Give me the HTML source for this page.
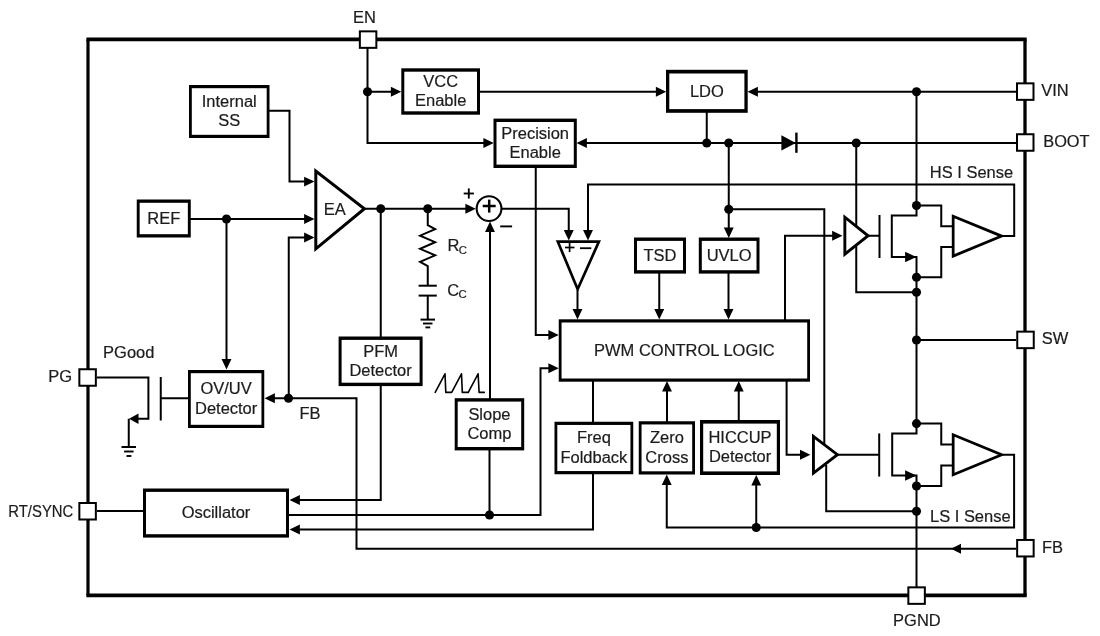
<!DOCTYPE html>
<html lang="en"><head><meta charset="utf-8"><title>Functional Block Diagram</title>
<style>
html,body{margin:0;padding:0;background:#fff;}
body{width:1100px;height:636px;overflow:hidden;}
svg{display:block;}
svg{will-change:transform;}
svg text{font-family:"Liberation Sans",Arial,Helvetica,sans-serif;fill:#1c1c1c;stroke:#1c1c1c;stroke-width:0.2px;}
</style></head><body>
<svg width="1100" height="636" viewBox="0 0 1100 636">
<rect width="1100" height="636" fill="#fff"/>
<path d="M86.4 39.4 L1026.7 39.4" fill="none" stroke="#000" stroke-width="3.8" />
<path d="M86.4 595.4 L1026.7 595.4" fill="none" stroke="#000" stroke-width="3.6" />
<path d="M88 39.4 L88 595.5" fill="none" stroke="#000" stroke-width="3.2" />
<path d="M1025 39.4 L1025 595.5" fill="none" stroke="#000" stroke-width="3.3" />
<path d="M367.5 48 L367.5 143 L485 143" fill="none" stroke="#000" stroke-width="2" />
<polygon points="493.75,143 483.35,138.05 483.35,147.95" fill="#000"/>
<path d="M367.5 91.75 L392 91.75" fill="none" stroke="#000" stroke-width="2" />
<polygon points="401.25,91.75 390.85,86.8 390.85,96.7" fill="#000"/>
<path d="M480 91.75 L657 91.75" fill="none" stroke="#000" stroke-width="2" />
<polygon points="666.25,91.75 655.85,86.8 655.85,96.7" fill="#000"/>
<path d="M1016 91.75 L757 91.75" fill="none" stroke="#000" stroke-width="2" />
<polygon points="747.5,91.75 757.9,86.8 757.9,96.7" fill="#000"/>
<path d="M916.5 91.75 L916.5 215.6 L891.8 215.6 L891.8 257 L916.5 257 L916.5 433.6 L892.2 433.6 L892.2 475.5 L916.5 475.5 L916.5 587" fill="none" stroke="#000" stroke-width="2" />
<path d="M1016 143 L586 143" fill="none" stroke="#000" stroke-width="2" />
<polygon points="576.5,143 586.9,138.05 586.9,147.95" fill="#000"/>
<path d="M706.75 112 L706.75 143" fill="none" stroke="#000" stroke-width="2" />
<path d="M728.75 143 L728.75 229" fill="none" stroke="#000" stroke-width="2" />
<polygon points="728.75,238 723.8,227.6 733.7,227.6" fill="#000"/>
<path d="M728.75 209.25 L824.3 209.25 L824.3 445" fill="none" stroke="#000" stroke-width="2" />
<path d="M826.2 465 L826.2 511.3 L916.5 511.3" fill="none" stroke="#000" stroke-width="2" />
<polygon points="781.4,135.3 781.4,150.5 795.8,142.9" fill="#000"/>
<path d="M796.4 132.6 L796.4 152.8" fill="none" stroke="#000" stroke-width="2.4" />
<path d="M856.25 143 L856.25 292.2 L916.5 292.2" fill="none" stroke="#000" stroke-width="2" />
<path d="M1003 236 L1014.2 236 L1014.2 184.6 L588 184.6 L588 231" fill="none" stroke="#000" stroke-width="2" />
<polygon points="588,240.5 583.05,230.1 592.95,230.1" fill="#000"/>
<path d="M502 208.75 L568.75 208.75 L568.75 231" fill="none" stroke="#000" stroke-width="2" />
<polygon points="568.75,240.5 563.8,230.1 573.7,230.1" fill="#000"/>
<path d="M535.75 166 L535.75 335 L549 335" fill="none" stroke="#000" stroke-width="2" />
<polygon points="558.75,335 548.35,330.05 548.35,339.95" fill="#000"/>
<path d="M288 515 L540.5 515 L540.5 368.2 L549 368.2" fill="none" stroke="#000" stroke-width="2" />
<polygon points="558.75,368.2 548.35,363.25 548.35,373.15" fill="#000"/>
<path d="M489.5 515 L489.5 449" fill="none" stroke="#000" stroke-width="2" />
<path d="M490 399 L490 231" fill="none" stroke="#000" stroke-width="2" />
<polygon points="490,221.6 485.05,232 494.95,232" fill="#000"/>
<path d="M577.5 290 L577.5 310" fill="none" stroke="#000" stroke-width="2" />
<polygon points="577.5,319.5 572.55,309.1 582.45,309.1" fill="#000"/>
<path d="M659.25 273 L659.25 310" fill="none" stroke="#000" stroke-width="2" />
<polygon points="659.25,319.5 654.3,309.1 664.2,309.1" fill="#000"/>
<path d="M728.5 272 L728.5 310" fill="none" stroke="#000" stroke-width="2" />
<polygon points="728.5,319.5 723.55,309.1 733.45,309.1" fill="#000"/>
<path d="M785 320 L785 235.75 L833 235.75" fill="none" stroke="#000" stroke-width="2" />
<polygon points="842.5,235.75 832.1,230.8 832.1,240.7" fill="#000"/>
<path d="M786.6 380 L786.6 454.7 L801 454.7" fill="none" stroke="#000" stroke-width="2" />
<polygon points="810.4,454.7 800,449.75 800,459.65" fill="#000"/>
<path d="M868 235.75 L879.5 235.75" fill="none" stroke="#000" stroke-width="2" />
<path d="M879.5 215 L879.5 258" fill="none" stroke="#000" stroke-width="2" />
<path d="M837 454.7 L879.2 454.7" fill="none" stroke="#000" stroke-width="2" />
<path d="M879.2 433.4 L879.2 476.6" fill="none" stroke="#000" stroke-width="2" />
<polygon points="916.4,257 905.1,251.75 905.1,262.25" fill="#000"/>
<polygon points="916.4,475.5 905.1,470.25 905.1,480.75" fill="#000"/>
<path d="M916.5 205.5 L941.25 205.5 L941.25 226.25 L953 226.25" fill="none" stroke="#000" stroke-width="2" />
<path d="M916.5 277.2 L941.25 277.2 L941.25 247 L953 247" fill="none" stroke="#000" stroke-width="2" />
<path d="M916.5 423.6 L941.25 423.6 L941.25 444.5 L953 444.5" fill="none" stroke="#000" stroke-width="2" />
<path d="M916.5 486 L941.25 486 L941.25 465.5 L953 465.5" fill="none" stroke="#000" stroke-width="2" />
<path d="M916.5 340 L1016 340" fill="none" stroke="#000" stroke-width="2" />
<path d="M1003 454.8 L1014.1 454.8 L1014.1 527.4 L666.75 527.5 L666.75 484" fill="none" stroke="#000" stroke-width="2" />
<polygon points="666.75,474.5 661.8,484.9 671.7,484.9" fill="#000"/>
<path d="M756.25 527.5 L756.25 484" fill="none" stroke="#000" stroke-width="2" />
<polygon points="756.25,475 751.3,485.4 761.2,485.4" fill="#000"/>
<path d="M1016 548.75 L356.5 548.75 L356.5 398.25 L274 398.25" fill="none" stroke="#000" stroke-width="2" />
<polygon points="264.5,398.25 274.9,393.3 274.9,403.2" fill="#000"/>
<polygon points="951,548.75 961,543.75 961,553.75" fill="#000"/>
<path d="M288.75 398.25 L288.75 237.5 L305 237.5" fill="none" stroke="#000" stroke-width="2" />
<polygon points="314.5,237.5 304.1,232.55 304.1,242.45" fill="#000"/>
<path d="M190 219 L305 219" fill="none" stroke="#000" stroke-width="2" />
<polygon points="314.5,219 304.1,214.05 304.1,223.95" fill="#000"/>
<path d="M226.5 219 L226.5 360" fill="none" stroke="#000" stroke-width="2" />
<polygon points="226.5,369.5 221.55,359.1 231.45,359.1" fill="#000"/>
<path d="M269 110.75 L289.5 110.75 L289.5 181.6 L305 181.6" fill="none" stroke="#000" stroke-width="2" />
<polygon points="314.5,181.6 304.1,176.65 304.1,186.55" fill="#000"/>
<path d="M364 208.75 L466 208.75" fill="none" stroke="#000" stroke-width="2" />
<polygon points="475.8,208.75 465.4,203.8 465.4,213.7" fill="#000"/>
<path d="M380.75 208.75 L380.75 500 L299 500" fill="none" stroke="#000" stroke-width="2" />
<polygon points="289.5,500 299.9,495.05 299.9,504.95" fill="#000"/>
<path d="M593 380 L593 529.5 L299 529.5" fill="none" stroke="#000" stroke-width="2" />
<polygon points="289.5,529.5 299.9,524.55 299.9,534.45" fill="#000"/>
<path d="M667 422 L667 390" fill="none" stroke="#000" stroke-width="2" />
<polygon points="667,381 662.05,391.4 671.95,391.4" fill="#000"/>
<path d="M738.75 421 L738.75 390" fill="none" stroke="#000" stroke-width="2" />
<polygon points="738.75,381 733.8,391.4 743.7,391.4" fill="#000"/>
<path d="M427.75 208.75 L427.75 225.2 L435.1 229.1 L420.1 235.7 L435.1 242.2 L420.1 248.8 L435.1 255.3 L420.1 261.8 L427.75 266 L427.75 285.5" fill="none" stroke="#000" stroke-width="2" stroke-linejoin="miter"/>
<path d="M418.6 285.7 L436.8 285.7" fill="none" stroke="#000" stroke-width="2" />
<path d="M418.6 295.6 L436.8 295.6" fill="none" stroke="#000" stroke-width="2" />
<path d="M427.75 295 L427.75 320" fill="none" stroke="#000" stroke-width="2" />
<path d="M420.5 319.6 L435 319.6" fill="none" stroke="#000" stroke-width="2" />
<path d="M423 323.5 L432.5 323.5" fill="none" stroke="#000" stroke-width="1.9" />
<path d="M425.4 327.4 L430.2 327.4" fill="none" stroke="#000" stroke-width="1.9" />
<path d="M97 377.5 L148.4 377.5 L148.4 418.75 L138 418.75" fill="none" stroke="#000" stroke-width="2" />
<polygon points="129,418.75 138.5,413.5 138.5,424" fill="#000"/>
<path d="M128.75 418.75 L128.75 447" fill="none" stroke="#000" stroke-width="2" />
<path d="M121.5 447 L136 447" fill="none" stroke="#000" stroke-width="2" />
<path d="M124.1 451.5 L133.6 451.5" fill="none" stroke="#000" stroke-width="1.9" />
<path d="M126.5 456 L131.4 456" fill="none" stroke="#000" stroke-width="1.9" />
<path d="M160.75 377 L160.75 420.5" fill="none" stroke="#000" stroke-width="2" />
<path d="M160.75 398.25 L189 398.25" fill="none" stroke="#000" stroke-width="2" />
<path d="M97 511.1 L144 511.1" fill="none" stroke="#000" stroke-width="2" />
<path d="M435.2 392.4 L445 373.8 L445.8 392.4 L451.7 392.4 L461.5 373.8 L462.3 392.4 L468.3 392.4 L478.1 373.8 L479.1 392.4 L484.3 392.4" fill="none" stroke="#000" stroke-width="1.6" stroke-linejoin="round" stroke-linecap="round"/>
<polygon points="315.80,171.06 315.80,248.82 364.40,208.78" fill="#fff" stroke="#000" stroke-width="3" stroke-linejoin="miter" stroke-miterlimit="10"/>
<polygon points="557.83,241.65 598.92,241.65 577.64,289.20" fill="#fff" stroke="#000" stroke-width="2.7" stroke-linejoin="miter" stroke-miterlimit="10"/>
<polygon points="844.85,217.21 844.85,254.20 868.07,235.75" fill="#fff" stroke="#000" stroke-width="2.9" stroke-linejoin="miter" stroke-miterlimit="10"/>
<polygon points="813.45,436.34 813.45,473.06 837.42,454.70" fill="#fff" stroke="#000" stroke-width="2.9" stroke-linejoin="miter" stroke-miterlimit="10"/>
<polygon points="953.17,216.25 953.17,256.14 1001.68,236.11" fill="#fff" stroke="#000" stroke-width="2.75" stroke-linejoin="miter" stroke-miterlimit="10"/>
<polygon points="953.17,434.85 953.17,474.75 1001.68,454.80" fill="#fff" stroke="#000" stroke-width="2.75" stroke-linejoin="miter" stroke-miterlimit="10"/>
<circle cx="489.05" cy="208.6" r="12.4" fill="#fff" stroke="#000" stroke-width="2.1"/>
<path d="M482.7 206 L495.7 206" fill="none" stroke="#000" stroke-width="2.5" />
<path d="M489.2 199.6 L489.2 212.6" fill="none" stroke="#000" stroke-width="2.5" />
<path d="M463.7 193.5 L473.9 193.5" fill="none" stroke="#000" stroke-width="1.85" />
<path d="M468.8 188.4 L468.8 198.6" fill="none" stroke="#000" stroke-width="1.85" />
<path d="M500.2 226.4 L512.1 226.4" fill="none" stroke="#000" stroke-width="1.9" />
<path d="M565 247.5 L574.5 247.5" fill="none" stroke="#000" stroke-width="1.7" />
<path d="M569.6 242.9 L569.6 252.1" fill="none" stroke="#000" stroke-width="1.7" />
<path d="M580 248.2 L591.3 248.2" fill="none" stroke="#000" stroke-width="1.8" />
<rect x="189" y="85" width="80.5" height="53" fill="#000"/>
<rect x="191.8" y="88.2" width="74.9" height="46.6" fill="#fff"/>
<text transform="translate(229.25 106.7) scale(1.03 1)" text-anchor="middle" font-size="16" >Internal</text>
<text transform="translate(229.25 126.3) scale(1.03 1)" text-anchor="middle" font-size="16" >SS</text>
<rect x="136.75" y="199.5" width="54" height="38" fill="#000"/>
<rect x="139.65" y="202.8" width="48.2" height="31.4" fill="#fff"/>
<text transform="translate(163.75 223.7) scale(1.03 1)" text-anchor="middle" font-size="16" >REF</text>
<rect x="401.3" y="68.3" width="78.7" height="46.4" fill="#000"/>
<rect x="404.3" y="71.7" width="72.7" height="39.6" fill="#fff"/>
<text transform="translate(440.65 86.7) scale(1.03 1)" text-anchor="middle" font-size="16" >VCC</text>
<text transform="translate(440.65 106.3) scale(1.03 1)" text-anchor="middle" font-size="16" >Enable</text>
<rect x="493.5" y="118.6" width="83.3" height="49.4" fill="#000"/>
<rect x="496.5" y="122" width="77.3" height="42.6" fill="#fff"/>
<text transform="translate(535.15 138.5) scale(1.03 1)" text-anchor="middle" font-size="16" >Precision</text>
<text transform="translate(535.15 158.1) scale(1.03 1)" text-anchor="middle" font-size="16" >Enable</text>
<rect x="666" y="69.8" width="81.7" height="43" fill="#000"/>
<rect x="669.3" y="73.5" width="75.1" height="35.6" fill="#fff"/>
<text transform="translate(706.85 96.5) scale(1.03 1)" text-anchor="middle" font-size="16" >LDO</text>
<rect x="634" y="237.5" width="52" height="36.1" fill="#000"/>
<rect x="637" y="240.9" width="46" height="29.3" fill="#fff"/>
<text transform="translate(660 260.75) scale(1.03 1)" text-anchor="middle" font-size="16" >TSD</text>
<rect x="698.8" y="237.5" width="60.7" height="36.1" fill="#000"/>
<rect x="701.8" y="240.9" width="54.7" height="29.3" fill="#fff"/>
<text transform="translate(729.15 260.75) scale(1.03 1)" text-anchor="middle" font-size="16" >UVLO</text>
<rect x="558.75" y="319.3" width="251.25" height="62.4" fill="#000"/>
<rect x="561.55" y="322.5" width="245.65" height="56" fill="#fff"/>
<text transform="translate(684.375 355.7) scale(1.03 1)" text-anchor="middle" font-size="16" >PWM CONTROL LOGIC</text>
<rect x="338.6" y="336.5" width="84" height="49.6" fill="#000"/>
<rect x="341.6" y="339.9" width="78" height="42.8" fill="#fff"/>
<text transform="translate(380.6 356.5) scale(1.03 1)" text-anchor="middle" font-size="16" >PFM</text>
<text transform="translate(380.6 376.1) scale(1.03 1)" text-anchor="middle" font-size="16" >Detector</text>
<rect x="188" y="370" width="76.25" height="58" fill="#000"/>
<rect x="190.8" y="373.2" width="70.65" height="51.6" fill="#fff"/>
<text transform="translate(226.125 394.2) scale(1.03 1)" text-anchor="middle" font-size="16" >OV/UV</text>
<text transform="translate(226.125 413.8) scale(1.03 1)" text-anchor="middle" font-size="16" >Detector</text>
<rect x="454.7" y="398.2" width="69.5" height="52.2" fill="#000"/>
<rect x="457.7" y="401.6" width="63.5" height="45.4" fill="#fff"/>
<text transform="translate(489.45 419.5) scale(1.03 1)" text-anchor="middle" font-size="16" >Slope</text>
<text transform="translate(489.45 439.1) scale(1.03 1)" text-anchor="middle" font-size="16" >Comp</text>
<rect x="143" y="488.5" width="146" height="49.1" fill="#000"/>
<rect x="146" y="491.9" width="140" height="42.3" fill="#fff"/>
<text transform="translate(216 518.25) scale(1.03 1)" text-anchor="middle" font-size="16" >Oscillator</text>
<rect x="554.5" y="421.75" width="78.75" height="52.5" fill="#000"/>
<rect x="557.3" y="424.95" width="73.15" height="46.1" fill="#fff"/>
<text transform="translate(593.875 443.2) scale(1.03 1)" text-anchor="middle" font-size="16" >Freq</text>
<text transform="translate(593.875 462.8) scale(1.03 1)" text-anchor="middle" font-size="16" >Foldback</text>
<rect x="638.75" y="421.25" width="56.25" height="53.25" fill="#000"/>
<rect x="641.55" y="424.45" width="50.65" height="46.85" fill="#fff"/>
<text transform="translate(666.875 443.075) scale(1.03 1)" text-anchor="middle" font-size="16" >Zero</text>
<text transform="translate(666.875 462.675) scale(1.03 1)" text-anchor="middle" font-size="16" >Cross</text>
<rect x="700" y="420" width="80" height="55" fill="#000"/>
<rect x="703.2" y="423.6" width="73.6" height="47.8" fill="#fff"/>
<text transform="translate(740 442.7) scale(1.03 1)" text-anchor="middle" font-size="16" >HICCUP</text>
<text transform="translate(740 462.3) scale(1.03 1)" text-anchor="middle" font-size="16" >Detector</text>
<circle cx="367.5" cy="91.75" r="4.55" fill="#000"/>
<circle cx="706.75" cy="143" r="4.55" fill="#000"/>
<circle cx="728.75" cy="143" r="4.55" fill="#000"/>
<circle cx="856.25" cy="143" r="4.55" fill="#000"/>
<circle cx="916.5" cy="91.75" r="4.55" fill="#000"/>
<circle cx="728.75" cy="209.25" r="4.55" fill="#000"/>
<circle cx="916.5" cy="205.5" r="4.55" fill="#000"/>
<circle cx="916.5" cy="277.2" r="4.55" fill="#000"/>
<circle cx="916.5" cy="292.2" r="4.55" fill="#000"/>
<circle cx="916.5" cy="340" r="4.55" fill="#000"/>
<circle cx="916.5" cy="423.6" r="4.55" fill="#000"/>
<circle cx="916.5" cy="486" r="4.55" fill="#000"/>
<circle cx="916.5" cy="511.3" r="4.55" fill="#000"/>
<circle cx="756.25" cy="527.5" r="4.55" fill="#000"/>
<circle cx="489.5" cy="515" r="4.55" fill="#000"/>
<circle cx="288.5" cy="398.25" r="4.55" fill="#000"/>
<circle cx="226.5" cy="219" r="4.55" fill="#000"/>
<circle cx="380.75" cy="208.75" r="4.55" fill="#000"/>
<circle cx="427.75" cy="208.75" r="4.55" fill="#000"/>
<rect x="358.85" y="30.35" width="18.5" height="18.5" fill="#000"/>
<rect x="360.85" y="32.35" width="14.5" height="14.5" fill="#fff"/>
<rect x="1016" y="82.35" width="18.5" height="18.5" fill="#000"/>
<rect x="1018" y="84.35" width="14.5" height="14.5" fill="#fff"/>
<rect x="1016" y="133.25" width="18.5" height="18.5" fill="#000"/>
<rect x="1018" y="135.25" width="14.5" height="14.5" fill="#fff"/>
<rect x="1016.25" y="330.65" width="18.5" height="18.5" fill="#000"/>
<rect x="1018.25" y="332.65" width="14.5" height="14.5" fill="#fff"/>
<rect x="1016.15" y="538.95" width="18.5" height="18.5" fill="#000"/>
<rect x="1018.15" y="540.95" width="14.5" height="14.5" fill="#fff"/>
<rect x="907.35" y="586.35" width="18.5" height="18.5" fill="#000"/>
<rect x="909.35" y="588.35" width="14.5" height="14.5" fill="#fff"/>
<rect x="78.35" y="368.25" width="18.5" height="18.5" fill="#000"/>
<rect x="80.35" y="370.25" width="14.5" height="14.5" fill="#fff"/>
<rect x="78.35" y="502" width="18.5" height="18.5" fill="#000"/>
<rect x="80.35" y="504" width="14.5" height="14.5" fill="#fff"/>
<text transform="translate(364.4 23) scale(1.03 1)" text-anchor="middle" font-size="16" >EN</text>
<text transform="translate(1041.2 96.3) scale(1.03 1)" text-anchor="start" font-size="16" >VIN</text>
<text transform="translate(1043.3 147) scale(1.02 1)" text-anchor="start" font-size="16" >BOOT</text>
<text transform="translate(1041.8 344.2) scale(1.03 1)" text-anchor="start" font-size="16" >SW</text>
<text transform="translate(1042 552.5) scale(1.03 1)" text-anchor="start" font-size="16" >FB</text>
<text transform="translate(916.9 626.3) scale(1.03 1)" text-anchor="middle" font-size="16" >PGND</text>
<text transform="translate(72.1 382) scale(1.03 1)" text-anchor="end" font-size="16" >PG</text>
<text transform="translate(73.3 517.2) scale(0.93 1)" text-anchor="end" font-size="16" >RT/SYNC</text>
<text transform="translate(103.1 358.2) scale(1.03 1)" text-anchor="start" font-size="16" >PGood</text>
<text transform="translate(299.5 419.3) scale(1.03 1)" text-anchor="start" font-size="16" >FB</text>
<text transform="translate(929.8 178.4) scale(1.03 1)" text-anchor="start" font-size="16" >HS I Sense</text>
<text transform="translate(930 521.8) scale(1.03 1)" text-anchor="start" font-size="16" >LS I Sense</text>
<text transform="translate(334.8 214.5) scale(1.03 1)" text-anchor="middle" font-size="16" >EA</text>
<text transform="translate(447.5 250.9) scale(1.03 1)" text-anchor="start" font-size="16" >R</text>
<text transform="translate(458.7 253.8) scale(1.03 1)" text-anchor="start" font-size="11" >C</text>
<text transform="translate(447.2 295.5) scale(1.03 1)" text-anchor="start" font-size="16" >C</text>
<text transform="translate(458.6 298) scale(1.03 1)" text-anchor="start" font-size="11" >C</text>
</svg>
</body></html>
